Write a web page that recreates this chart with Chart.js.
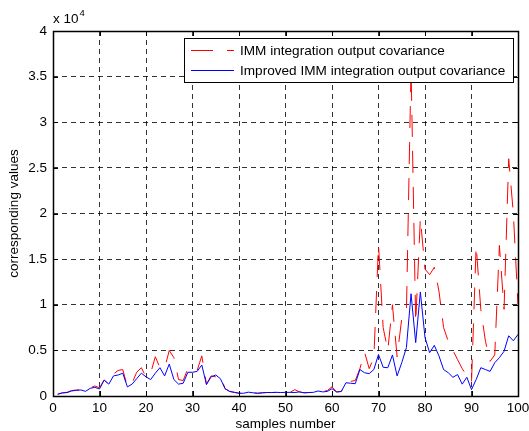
<!DOCTYPE html>
<html>
<head>
<meta charset="utf-8">
<script src="https://cdn.jsdelivr.net/npm/chart.js@4/dist/chart.umd.min.js"></script>
<style>
  html, body { margin: 0; padding: 0; background: #fff; }
  canvas { display: block; }
</style>
</head>
<body>
<canvas id="c" width="529" height="431"></canvas>
<script>
// ---- data ----
const samples = Array.from({length: 100}, (_, i) => i + 1);
const immCov = [
  200, 350, 400, 600, 650, 700, 550, 900, 1100, 900,
  1750, 1300, 2400, 2800, 2900, 1000, 1400, 2600, 3100, 2100,
  2500, 4300, 3100, 3000, 5000, 4200, 1800, 1700, 3000, 2600,
  2800, 4400, 1300, 2200, 2100, 2300, 800, 500, 400, 300,
  300, 450, 350, 300, 350, 380, 380, 400, 380, 400,
  400, 700, 450, 350, 380, 400, 550, 500, 600, 1000,
  440, 500, 1600, 1600, 1700, 3000, 4800, 3000, 4200, 16600,
  7500, 5000, 10000, 4300, 8500, 9000, 36000, 8000, 19500, 13900,
  13300, 14100, 11500, 7500, 6000, 5000, 4000, 3000, 2200, 1500,
  16500, 9500, 6000, 3800, 4500, 16500, 9500, 26000, 20000, 10000
];
const improvedCov = [
  200, 330, 370, 550, 620, 660, 510, 840, 950, 770,
  1750, 1300, 2200, 2300, 2500, 1000, 1300, 1900, 2500, 2100,
  1800, 2500, 3100, 2200, 3500, 1800, 1300, 1400, 2600, 2600,
  2700, 3400, 1250, 2100, 2300, 1900, 800, 500, 400, 300,
  300, 420, 350, 300, 350, 380, 380, 400, 380, 400,
  400, 380, 450, 350, 380, 400, 550, 450, 500, 800,
  440, 500, 1450, 1400, 1350, 2900, 2550, 2450, 2900, 4550,
  3150, 3100, 4500, 2200, 3650, 5300, 11200, 5850, 11400, 6400,
  4750, 5550, 4400, 2900, 2550, 2050, 2350, 1300, 2050, 700,
  1800, 3100, 2900, 2700, 3650, 4200, 4900, 6600, 6050, 6750
];
const seriesNames = ['IMM integration output covariance', 'Improved IMM integration output covariance'];
const xTitle = 'samples number';
const yTitle = 'corresponding values';
const yMultiplier = 'x 10';
const yExponent = '4';

const FONT = '"Liberation Sans", Arial, sans-serif';
const RED_DASH = [22, 14];
const RED = '#ff0000';
const BLUE = '#0000ff';

const frame = {
  id: 'frame',
  afterDatasetsDraw(chart) {
    const {ctx, chartArea: a} = chart;
    ctx.save();
    // legend box (opaque, over the data)
    const lx = Math.round(a.left + 131), ly = Math.round(a.top + 7);
    const lw = Math.round(a.right - 5) - lx, lh = 44;
    ctx.fillStyle = '#fff';
    ctx.fillRect(lx, ly, lw, lh);
    ctx.strokeStyle = '#000';
    ctx.lineWidth = 1;
    ctx.strokeRect(lx + 0.5, ly + 0.5, lw, lh);
    const rows = [
      {y: ly + 12, color: RED, dash: RED_DASH, text: seriesNames[0]},
      {y: ly + 32, color: BLUE, dash: [], text: seriesNames[1]}
    ];
    rows.forEach(r => {
      ctx.save();
      ctx.beginPath();
      ctx.setLineDash(r.dash);
      ctx.strokeStyle = r.color;
      ctx.lineWidth = 1;
      ctx.moveTo(lx + 7, r.y + 0.5);
      ctx.lineTo(lx + 50, r.y + 0.5);
      ctx.stroke();
      ctx.restore();
      ctx.fillStyle = '#000';
      ctx.font = '13.6px ' + FONT;
      ctx.textBaseline = 'middle';
      ctx.textAlign = 'left';
      ctx.fillText(r.text, lx + 56, r.y + 1);
    });
    ctx.restore();
  },
  afterDraw(chart) {
    const {ctx, chartArea: a, scales} = chart;
    ctx.save();
    ctx.strokeStyle = '#000';
    ctx.lineWidth = 1;
    ctx.setLineDash([]);
    // inner tick marks
    const tl = 5;
    ctx.beginPath();
    scales.x.ticks.forEach(t => {
      const px = Math.round(scales.x.getPixelForValue(t.value)) + 0.5;
      ctx.moveTo(px, a.bottom); ctx.lineTo(px, a.bottom - tl);
      ctx.moveTo(px, a.top); ctx.lineTo(px, a.top + tl);
    });
    scales.y.ticks.forEach(t => {
      const py = Math.round(scales.y.getPixelForValue(t.value)) + 0.5;
      ctx.moveTo(a.left, py); ctx.lineTo(a.left + tl, py);
      ctx.moveTo(a.right, py); ctx.lineTo(a.right - tl, py);
    });
    ctx.stroke();
    // box
    ctx.lineWidth = 1.5;
    ctx.strokeRect(Math.round(a.left) + 0.5, Math.round(a.top) + 0.5,
                   Math.round(a.right - a.left), Math.round(a.bottom - a.top));
    // exponent label
    ctx.fillStyle = '#000';
    ctx.textAlign = 'left';
    ctx.textBaseline = 'alphabetic';
    ctx.font = '13.5px ' + FONT;
    ctx.fillText(yMultiplier, a.left, a.top - 8);
    const w = ctx.measureText(yMultiplier).width;
    ctx.font = '9.5px ' + FONT;
    ctx.fillText(yExponent, a.left + w + 1, a.top - 15);
    ctx.restore();
  }
};

new Chart(document.getElementById('c'), {
  type: 'line',
  data: {
    datasets: [
      {
        label: seriesNames[0],
        data: samples.map((x, i) => ({x, y: immCov[i]})),
        borderColor: RED,
        borderWidth: 1,
        borderDash: RED_DASH,
        pointRadius: 0,
        tension: 0,
        fill: false,
        order: 1
      },
      {
        label: seriesNames[1],
        data: samples.map((x, i) => ({x, y: improvedCov[i]})),
        borderColor: BLUE,
        borderWidth: 1,
        pointRadius: 0,
        tension: 0,
        fill: false,
        order: 0
      }
    ]
  },
  options: {
    responsive: false,
    animation: false,
    devicePixelRatio: 1,
    layout: { padding: { top: 31, right: 11, left: 0, bottom: 0 } },
    plugins: { legend: { display: false }, tooltip: { enabled: false } },
    scales: {
      x: {
        type: 'linear',
        min: 0, max: 100,
        afterFit(s) { s.height = 35; s.paddingRight = 0; s.paddingLeft = 0; },
        ticks: { stepSize: 10, padding: 4, color: '#000', font: { family: FONT, size: 13.5 }, maxRotation: 0 },
        grid: { color: 'rgba(0,0,0,0.8)', lineWidth: 1, drawTicks: false },
        border: { display: false, dash: [5, 4] },
        title: { display: true, text: xTitle, color: '#000', font: { family: FONT, size: 13.5, lineHeight: 1 }, padding: { top: 0, bottom: 0 } }
      },
      y: {
        min: 0, max: 40000,
        afterFit(s) { s.width = 53; s.paddingTop = 0; s.paddingBottom = 0; },
        ticks: { stepSize: 5000, padding: 6, color: '#000', font: { family: FONT, size: 13.5 },
                 callback: v => String(v / 10000) },
        grid: { color: 'rgba(0,0,0,0.8)', lineWidth: 1, drawTicks: false },
        border: { display: false, dash: [5, 4] },
        title: { display: true, text: yTitle, color: '#000', font: { family: FONT, size: 13.5 }, padding: { top: 6, bottom: 0 } }
      }
    }
  },
  plugins: [frame]
});
</script>
</body>
</html>
